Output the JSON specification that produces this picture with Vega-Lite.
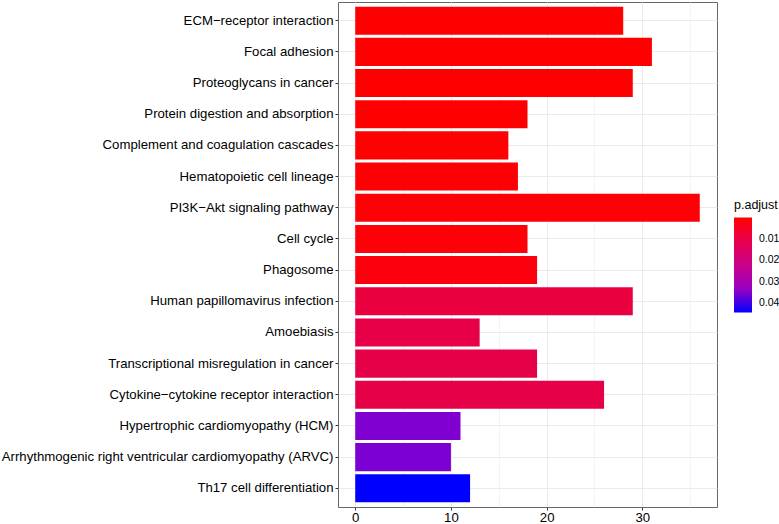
{
  "$schema": "https://vega.github.io/schema/vega-lite/v6.json",
  "width": 379,
  "height": 505,
  "autosize": {"type": "none"},
  "padding": {"left": 338, "top": 2, "right": 62, "bottom": 17},
  "background": "white",
  "data": {
    "values": [
      {"term": "ECM−receptor interaction", "count": 28, "padj": 0.00001},
      {"term": "Focal adhesion", "count": 31, "padj": 0.00002},
      {"term": "Proteoglycans in cancer", "count": 29, "padj": 0.00005},
      {"term": "Protein digestion and absorption", "count": 18, "padj": 0.0001},
      {"term": "Complement and coagulation cascades", "count": 16, "padj": 0.0002},
      {"term": "Hematopoietic cell lineage", "count": 17, "padj": 0.0003},
      {"term": "PI3K−Akt signaling pathway", "count": 36, "padj": 0.0004},
      {"term": "Cell cycle", "count": 18, "padj": 0.0006},
      {"term": "Phagosome", "count": 19, "padj": 0.001},
      {"term": "Human papillomavirus infection", "count": 29, "padj": 0.008},
      {"term": "Amoebiasis", "count": 13, "padj": 0.0095},
      {"term": "Transcriptional misregulation in cancer", "count": 19, "padj": 0.0098},
      {"term": "Cytokine−cytokine receptor interaction", "count": 26, "padj": 0.0098},
      {"term": "Hypertrophic cardiomyopathy (HCM)", "count": 11, "padj": 0.036},
      {"term": "Arrhythmogenic right ventricular cardiomyopathy (ARVC)", "count": 10, "padj": 0.0365},
      {"term": "Th17 cell differentiation", "count": 12, "padj": 0.0443}
    ]
  },
  "mark": {"type": "bar"},
  "encoding": {
    "y": {
      "field": "term",
      "type": "nominal",
      "sort": null,
      "title": null,
      "scale": {"paddingInner": 0.1, "paddingOuter": 0.15},
      "axis": {
        "domain": false,
        "grid": true,
        "bandPosition": 0.5,
        "gridColor": "#ebebeb",
        "gridWidth": 1,
        "tickColor": "#333333",
        "tickSize": 3,
        "labelPadding": 2,
        "labelFontSize": 13.2,
        "labelColor": "#000000",
        "labelFont": "Liberation Sans",
        "labelLimit": 400
      }
    },
    "x": {
      "field": "count",
      "type": "quantitative",
      "title": null,
      "scale": {"domain": [-1.8, 37.8], "nice": false, "zero": false},
      "axis": {
        "values": [0, 5, 10, 15, 20, 25, 30, 35],
        "labelExpr": "datum.value % 10 === 0 ? datum.label : ''",
        "domain": false,
        "grid": true,
        "gridColor": "#ebebeb",
        "gridWidth": {"expr": "datum.value % 10 === 0 ? 1 : 0.6"},
        "tickOpacity": {"expr": "datum.value % 10 === 0 ? 1 : 0"},
        "tickColor": "#333333",
        "tickSize": 3,
        "labelPadding": 1,
        "labelFontSize": 13.2,
        "labelColor": "#000000",
        "labelFont": "Liberation Sans"
      }
    },
    "color": {
      "field": "padj",
      "type": "quantitative",
      "title": "p.adjust",
      "scale": {"range": ["#ff0000", "#0000ff"], "interpolate": "lab", "nice": false, "zero": false},
      "legend": {
        "orient": "none",
        "legendX": 396,
        "legendY": 197,
        "direction": "vertical",
        "values": [0.01, 0.02, 0.03, 0.04],
        "gradientLength": 95,
        "gradientThickness": 18,
        "gradientStrokeWidth": 0,
        "titleFont": "Liberation Sans",
        "titleFontSize": 12.5,
        "titleFontWeight": "normal",
        "titleColor": "#000000",
        "titlePadding": 6,
        "labelFont": "Liberation Sans",
        "labelFontSize": 10.5,
        "labelColor": "#000000",
        "labelOffset": 7,
        "encode": {
          "gradient": {
            "update": {
              "fill": {
                "value": {
                  "gradient": "linear",
                  "x1": 0, "y1": 0, "x2": 0, "y2": 1,
                  "stops": [
                    {"offset": 0, "color": "#ff0000"},
                    {"offset": 0.25, "color": "#e8004f"},
                    {"offset": 0.5, "color": "#ca0089"},
                    {"offset": 0.75, "color": "#9a00c3"},
                    {"offset": 1, "color": "#0000ff"}
                  ]
                }
              }
            }
          },
          "labels": {
            "update": {
              "y": {"signal": "datum.perc", "mult": 95},
              "baseline": {"value": "middle"}
            }
          }
        }
      }
    }
  },
  "config": {
    "view": {"stroke": "#666666", "strokeWidth": 1}
  }
}
